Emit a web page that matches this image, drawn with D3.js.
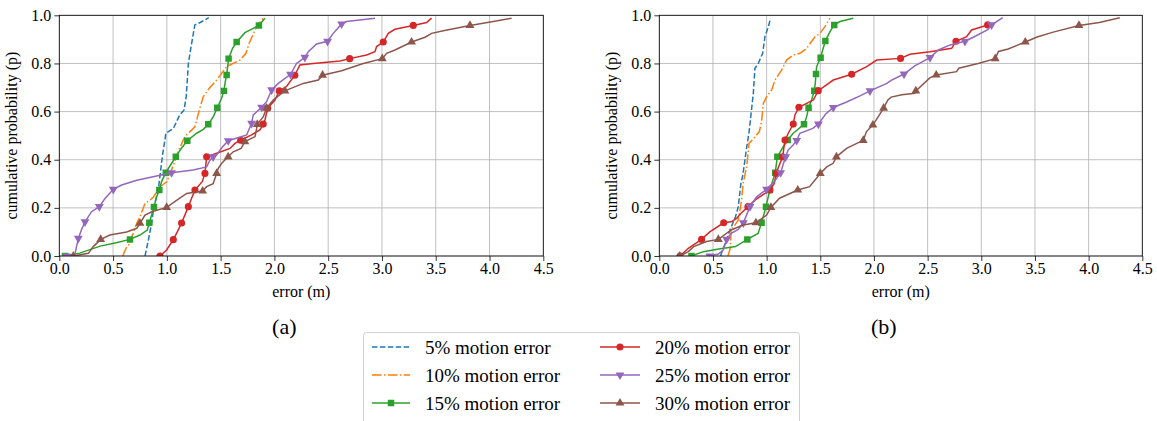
<!DOCTYPE html>
<html>
<head>
<meta charset="utf-8">
<script src="https://cdn.jsdelivr.net/npm/d3@7"></script>
<style>
  body { margin: 0; background: #fff; }
  svg { display: block; }
  #chart text { font-family: 'Liberation Serif', 'Times New Roman', serif !important; }
</style>
</head>
<body>
<svg id="chart" width="1157" height="421"></svg>
<script>
// ---- data: [error (m), cumulative probability] ----
const xTicks = [0, 0.5, 1.0, 1.5, 2.0, 2.5, 3.0, 3.5, 4.0, 4.5];
const yTicks = [0, 0.2, 0.4, 0.6, 0.8, 1.0];
const seriesNames = ["5% motion error", "10% motion error", "15% motion error",
                     "20% motion error", "25% motion error", "30% motion error"];
const panelLabels = ["(a)", "(b)"];

// panel (a)
const a5Line = [[0.797,0],[0.83,0.07],[0.858,0.136],[0.88,0.205],[0.92,0.274],[0.96,0.42],[0.985,0.49],[0.99,0.51],[1.06,0.53],[1.12,0.586],[1.16,0.607],[1.18,0.662],[1.2,0.80],[1.22,0.856],[1.26,0.96],[1.31,0.97],[1.39,0.99]];
const a10Line = [[0.59,0],[0.62,0.032],[0.65,0.05],[0.72,0.136],[0.75,0.163],[0.797,0.219],[0.843,0.232],[0.874,0.244],[0.935,0.288],[1.0,0.308],[1.03,0.343],[1.08,0.40],[1.11,0.44],[1.168,0.496],[1.261,0.537],[1.298,0.6],[1.339,0.662],[1.385,0.692],[1.463,0.731],[1.556,0.787],[1.68,0.814],[1.735,0.842],[1.766,0.884],[1.835,0.953],[1.897,0.988]];
const a15Line = [[0.19,0.012],[0.38,0.041],[0.53,0.055],[0.75,0.087],[0.818,0.108],[0.905,0.246],[0.95,0.308],[1.03,0.375],[1.137,0.449],[1.277,0.51],[1.339,0.526],[1.432,0.579],[1.509,0.655],[1.543,0.724],[1.611,0.863],[1.726,0.928],[1.804,0.946],[1.912,0.988]];
const a15Marks = [[0.053,0],[0.657,0.069],[0.837,0.138],[0.88,0.204],[0.93,0.274],[0.99,0.346],[1.083,0.412],[1.19,0.479],[1.385,0.547],[1.469,0.616],[1.531,0.686],[1.556,0.752],[1.574,0.82],[1.649,0.889],[1.856,0.958]];
const a20Line = [[0.998,0.025],[1.09,0.094],[1.23,0.24],[1.33,0.31],[1.463,0.427],[1.587,0.447],[1.633,0.468],[1.788,0.503],[1.865,0.524],[1.912,0.565],[2.005,0.648],[2.113,0.704],[2.237,0.794],[2.361,0.8],[2.61,0.81],[2.857,0.835],[2.935,0.849],[2.95,0.87],[3.059,0.925],[3.12,0.942],[3.415,0.97],[3.461,0.988]];
const a20Marks = [[0.936,0],[1.06,0.068],[1.137,0.137],[1.2,0.205],[1.261,0.274],[1.354,0.343],[1.37,0.412],[1.686,0.481],[1.896,0.548],[1.937,0.614],[2.045,0.686],[2.19,0.751],[2.70,0.82],[3.012,0.889],[3.291,0.958]];
const a25Line = [[0.1,0],[0.146,0.008],[0.16,0.039],[0.208,0.111],[0.3,0.184],[0.425,0.239],[0.58,0.295],[0.72,0.315],[0.905,0.332],[1.245,0.357],[1.37,0.37],[1.4,0.398],[1.46,0.419],[1.518,0.454],[1.742,0.503],[1.803,0.586],[1.927,0.641],[2.036,0.717],[2.206,0.8],[2.315,0.849],[2.392,0.881],[2.547,0.925],[2.67,0.974],[2.935,0.988]];
const a25Marks = [[0.068,0],[0.177,0.073],[0.239,0.142],[0.372,0.205],[0.502,0.277],[1.044,0.346],[1.43,0.412],[1.571,0.479],[1.788,0.551],[1.881,0.618],[1.974,0.69],[2.15,0.755],[2.283,0.825],[2.494,0.892],[2.625,0.964]];
const a30Line = [[0.27,0.011],[0.316,0.039],[0.47,0.087],[0.626,0.1],[0.72,0.115],[0.797,0.17],[0.86,0.184],[1.12,0.24],[1.184,0.26],[1.37,0.288],[1.43,0.3],[1.478,0.364],[1.51,0.385],[1.617,0.433],[1.69,0.447],[1.82,0.496],[1.835,0.53],[1.897,0.579],[1.989,0.648],[2.268,0.717],[2.408,0.731],[2.625,0.77],[2.826,0.8],[3.043,0.842],[3.121,0.856],[3.4,0.909],[3.461,0.925],[3.57,0.936],[4.035,0.974],[4.205,0.988]];
const a30Marks = [[0.13,0],[0.385,0.069],[0.75,0.136],[0.998,0.202],[1.333,0.27],[1.463,0.343],[1.57,0.412],[1.726,0.475],[1.841,0.547],[1.927,0.614],[2.098,0.686],[2.448,0.751],[3.003,0.82],[3.275,0.889],[3.818,0.958]];

// panel (b)
const b5Line = [[0.57,0],[0.62,0.06],[0.66,0.11],[0.71,0.163],[0.736,0.205],[0.76,0.3],[0.78,0.34],[0.81,0.44],[0.835,0.51],[0.876,0.676],[0.891,0.78],[0.922,0.8],[0.963,0.842],[0.984,0.911],[1.016,0.953],[1.037,0.988]];
const b10Line = [[0.64,0],[0.66,0.03],[0.67,0.108],[0.736,0.149],[0.767,0.233],[0.78,0.3],[0.814,0.371],[0.83,0.44],[0.835,0.468],[0.882,0.489],[0.932,0.517],[0.953,0.558],[0.969,0.634],[1.0,0.662],[1.047,0.69],[1.078,0.731],[1.14,0.773],[1.186,0.814],[1.248,0.835],[1.311,0.842],[1.373,0.863],[1.45,0.911],[1.497,0.925],[1.543,0.953],[1.59,0.988]];
const b15Line = [[0.41,0.018],[0.54,0.028],[0.71,0.039],[0.92,0.094],[1.155,0.454],[1.248,0.51],[1.373,0.579],[1.419,0.648],[1.453,0.717],[1.466,0.787],[1.522,0.856],[1.59,0.932],[1.683,0.974],[1.807,0.988]];
const b15Marks = [[0.30,0],[0.82,0.069],[0.953,0.138],[0.994,0.205],[1.03,0.274],[1.08,0.346],[1.1,0.412],[1.196,0.482],[1.348,0.547],[1.391,0.616],[1.444,0.687],[1.46,0.756],[1.503,0.824],[1.547,0.893],[1.63,0.96]];
const b20Line = [[0.27,0.032],[0.47,0.1],[0.67,0.142],[0.72,0.156],[0.76,0.177],[0.9,0.235],[0.96,0.253],[1.07,0.3],[1.1,0.357],[1.202,0.51],[1.264,0.586],[1.373,0.634],[1.435,0.648],[1.621,0.731],[1.932,0.787],[2.025,0.814],[2.335,0.838],[2.522,0.849],[2.724,0.863],[2.863,0.911],[2.91,0.939]];
const b20Marks = [[0.193,0],[0.394,0.069],[0.6,0.138],[0.826,0.205],[1.03,0.274],[1.09,0.343],[1.149,0.412],[1.171,0.482],[1.248,0.548],[1.301,0.618],[1.481,0.687],[1.792,0.755],[2.248,0.821],[2.764,0.892],[3.059,0.96]];
const b25Line = [[0.55,0.008],[0.596,0.025],[0.67,0.094],[0.736,0.11],[0.907,0.246],[1.07,0.308],[1.2,0.44],[1.245,0.46],[1.31,0.51],[1.43,0.53],[1.55,0.59],[1.745,0.64],[1.87,0.665],[2.12,0.717],[2.16,0.73],[2.38,0.79],[2.6,0.856],[2.71,0.877],[2.93,0.91],[3.06,0.94],[3.2,0.99]];
const b25Marks = [[0.47,0],[0.627,0.069],[0.783,0.138],[0.845,0.205],[1.0,0.277],[1.13,0.346],[1.177,0.412],[1.28,0.48],[1.482,0.548],[1.621,0.617],[1.963,0.686],[2.28,0.756],[2.522,0.824],[2.848,0.892],[3.096,0.96]];
const b30Line = [[0.27,0.018],[0.32,0.039],[0.44,0.06],[0.67,0.108],[0.78,0.129],[1.0,0.17],[1.12,0.24],[1.4,0.288],[1.56,0.37],[1.62,0.385],[1.745,0.447],[1.84,0.468],[1.93,0.517],[2.13,0.648],[2.16,0.66],[2.26,0.67],[2.38,0.676],[2.52,0.74],[2.77,0.766],[2.79,0.78],[2.97,0.8],[3.16,0.85],[3.25,0.86],[3.52,0.91],[3.67,0.93],[4.1,0.97],[4.29,0.99]];
const b30Marks = [[0.19,0],[0.55,0.069],[0.9,0.138],[1.04,0.202],[1.29,0.274],[1.5,0.343],[1.65,0.412],[1.9,0.48],[1.99,0.544],[2.09,0.614],[2.39,0.686],[2.58,0.752],[3.13,0.82],[3.41,0.889],[3.91,0.958]];

const panelA = { lines: [a5Line, a10Line, a15Line, a20Line, a25Line, a30Line],
                 marks: [[], [], a15Marks, a20Marks, a25Marks, a30Marks] };
const panelB = { lines: [b5Line, b10Line, b15Line, b20Line, b25Line, b30Line],
                 marks: [[], [], b15Marks, b20Marks, b25Marks, b30Marks] };

// ---- styles ----
const colors = ["#1f77b4", "#ff7f0e", "#2ca02c", "#d62728", "#9467bd", "#8c564b"];
const dashes = ["5.5,2.4", "9.6,2.4,1.5,2.4", null, null, null, null];
const markerTypes = [null, null, "square", "circle", "tridown", "triup"];
const FONT = "'Liberation Serif', 'Times New Roman', serif";

const svg = d3.select("#chart");
svg.append("rect").attr("width", 1157).attr("height", 421).attr("fill", "#fff");

const yTop = 15.3, yBottom = 256;
const y = d3.scaleLinear().domain([0, 1]).range([yBottom, yTop]);

function markerPath(type) {
  if (type === "square") return d3.symbol(d3.symbolSquare, 42)();
  if (type === "circle") return d3.symbol(d3.symbolCircle, 40)();
  return d3.symbol(d3.symbolTriangle, 34)();
}

function drawMarkers(sel, pts, type, color, xs) {
  sel.selectAll(null).data(pts).enter().append("path")
    .attr("d", markerPath(type))
    .attr("transform", d => `translate(${xs(d[0])},${y(d[1])})` + (type === "tridown" ? " rotate(180)" : ""))
    .attr("fill", color);
}

function serifText(sel, size) {
  return sel.attr("font-family", "Liberation Serif")
    .style("font-family", FONT, "important")
    .style("font-size", size + "px")
    .attr("font-size", size).attr("fill", "#000");
}

function addText(sel, size) {
  return serifText(sel.append("text"), size);
}

function drawPanel(left, right, panel, idx) {
  const x = d3.scaleLinear().domain([0, 4.5]).range([left, right]);
  const g = svg.append("g");
  const clipId = "clip" + idx;
  svg.append("clipPath").attr("id", clipId).append("rect")
    .attr("x", left).attr("y", yTop).attr("width", right - left).attr("height", yBottom - yTop);

  // grid
  g.selectAll(".gx").data(xTicks).enter().append("line")
    .attr("x1", d => x(d)).attr("x2", d => x(d)).attr("y1", yTop).attr("y2", yBottom)
    .attr("stroke", "#b0b0b0").attr("stroke-width", 0.8);
  g.selectAll(".gy").data(yTicks).enter().append("line")
    .attr("x1", left).attr("x2", right).attr("y1", d => y(d)).attr("y2", d => y(d))
    .attr("stroke", "#b0b0b0").attr("stroke-width", 0.8);

  // series
  const plot = g.append("g").attr("clip-path", `url(#${clipId})`);
  const line = d3.line().x(d => x(d[0])).y(d => y(d[1]));
  panel.lines.forEach((pts, i) => {
    const all = pts.concat(panel.marks[i]).sort((a, b) => a[1] - b[1] || a[0] - b[0]);
    plot.append("path").datum(all)
      .attr("d", line).attr("fill", "none")
      .attr("stroke", colors[i]).attr("stroke-width", 1.5)
      .attr("stroke-dasharray", dashes[i]);
    if (markerTypes[i]) drawMarkers(plot, panel.marks[i], markerTypes[i], colors[i], x);
  });

  // frame
  g.append("rect").attr("x", left).attr("y", yTop)
    .attr("width", right - left).attr("height", yBottom - yTop)
    .attr("fill", "none").attr("stroke", "#000").attr("stroke-width", 0.8);

  // axes
  const xAxis = g.append("g").attr("transform", `translate(0,${yBottom})`)
    .call(d3.axisBottom(x).tickValues(xTicks).tickFormat(d3.format(".1f")).tickSize(5).tickPadding(2));
  const yAxis = g.append("g").attr("transform", `translate(${left},0)`)
    .call(d3.axisLeft(y).tickValues(yTicks).tickFormat(d3.format(".1f")).tickSize(5).tickPadding(3));
  [xAxis, yAxis].forEach(a => {
    a.attr("font-family", "Liberation Serif").attr("font-size", 16);
    a.select(".domain").remove();
    a.selectAll(".tick line").attr("stroke", "#000").attr("stroke-width", 0.8);
    serifText(a.selectAll("text"), 16);
  });

  const cx = (left + right) / 2;
  addText(g, 16).attr("x", cx).attr("y", 297).attr("text-anchor", "middle").text("error (m)");
  addText(g, 16).attr("transform", `translate(${left - 42},${(yTop + yBottom) / 2}) rotate(-90)`)
    .attr("text-anchor", "middle").text("cumulative probability (p)");
  addText(g, 22).attr("x", cx - 17).attr("y", 334).attr("text-anchor", "middle").text(panelLabels[idx]);
}

drawPanel(59.3, 543.3, panelA, 0);
drawPanel(659.3, 1142.3, panelB, 1);

// ---- legend ----
const leg = svg.append("g");
leg.append("rect").attr("x", 363.5).attr("y", 332.5).attr("width", 436).attr("height", 100)
  .attr("rx", 3).attr("fill", "#fff").attr("stroke", "#d0d0d0").attr("stroke-width", 1);
const rowY = [347, 375, 403];
const colX = [[372, 410, 425], [600, 640, 655]];
seriesNames.forEach((name, i) => {
  const col = colX[Math.floor(i / 3)], yy = rowY[i % 3];
  leg.append("line").attr("x1", col[0]).attr("x2", col[1]).attr("y1", yy).attr("y2", yy)
    .attr("stroke", colors[i]).attr("stroke-width", 1.5).attr("stroke-dasharray", dashes[i]);
  if (markerTypes[i]) {
    leg.append("path").attr("d", markerPath(markerTypes[i]))
      .attr("transform", `translate(${(col[0] + col[1]) / 2},${yy})` + (markerTypes[i] === "tridown" ? " rotate(180)" : ""))
      .attr("fill", colors[i]);
  }
  addText(leg, 19).attr("x", col[2]).attr("y", yy + 6.5).text(name);
});
</script>
</body>
</html>
